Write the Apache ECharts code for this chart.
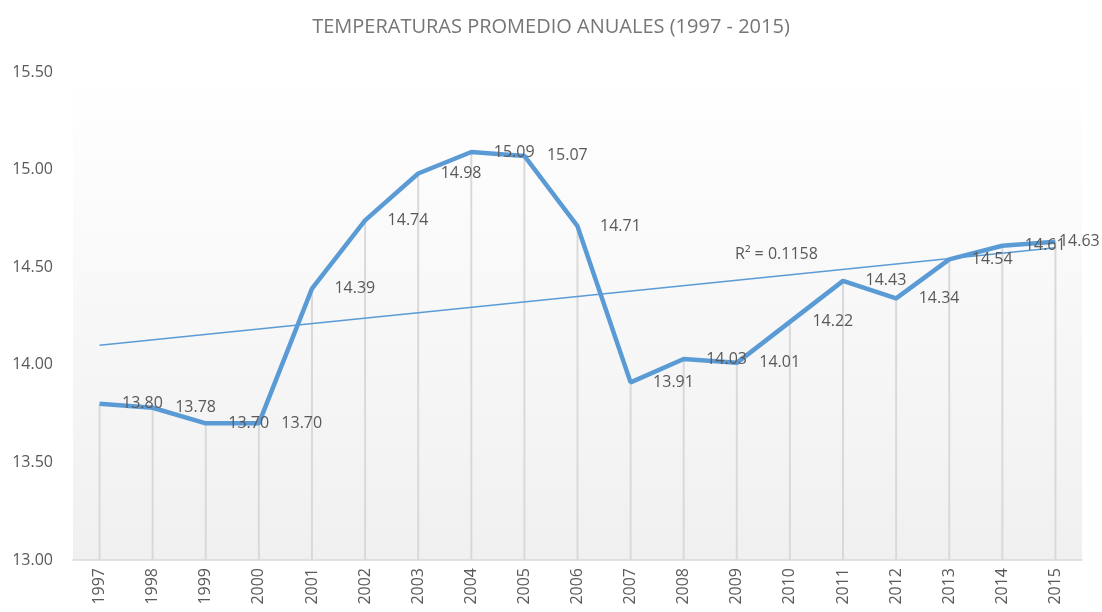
<!DOCTYPE html>
<html>
<head>
<meta charset="utf-8">
<script src="https://cdn.jsdelivr.net/npm/echarts@6/dist/echarts.min.js"></script>
<style>
  html, body { margin: 0; padding: 0; background: #fff; }
  #main { width: 1102px; height: 612px; }
</style>
</head>
<body>
<div id="main"></div>
<script>
// años y temperaturas
const years = ['1997', '1998', '1999', '2000', '2001', '2002', '2003', '2004', '2005', '2006',
  '2007', '2008', '2009', '2010', '2011', '2012', '2013', '2014', '2015'];
const temps = [13.80, 13.78, 13.70, 13.70, 14.39, 14.74, 14.98, 15.09, 15.07, 14.71,
  13.91, 14.03, 14.01, 14.22, 14.43, 14.34, 14.54, 14.61, 14.63];
// línea de tendencia (extremos)
const trendEnds = [14.10, 14.60];
const r2Text = 'R² = 0.1158';

const font = '"Open Sans", "Liberation Sans", sans-serif';
const blue = '#5b9bd5';
const textGray = '#595959';

const trend = years.map((y, i) => {
  if (i === 0) return trendEnds[0];
  if (i === years.length - 1) return trendEnds[1];
  return null;
});

// la última etiqueta va pegada al punto para que quepa
const lineData = temps.map((v, i) => i === temps.length - 1
  ? { value: v, label: { distance: 3, offset: [0, 0] } }
  : v);

const myChart = echarts.init(document.getElementById('main'));
const option = {
  animation: false,
  title: {
    text: 'TEMPERATURAS PROMEDIO ANUALES (1997 - 2015)',
    left: 'center',
    top: 12,
    textStyle: { fontFamily: font, fontSize: 20, fontWeight: 'normal', color: '#767676' }
  },
  grid: {
    left: 73,
    right: 20,
    top: 72,
    bottom: 52,
    show: true,
    borderWidth: 0,
    backgroundColor: {
      type: 'linear', x: 0, y: 0, x2: 0, y2: 1,
      colorStops: [{ offset: 0, color: '#ffffff' }, { offset: 1, color: '#f0f0f0' }]
    }
  },
  xAxis: {
    type: 'category',
    data: years,
    boundaryGap: true,
    axisLine: { lineStyle: { color: '#d9d9d9', width: 1.5 } },
    axisTick: { show: false },
    axisLabel: { rotate: 90, margin: 8, fontFamily: font, fontSize: 16, color: textGray }
  },
  yAxis: {
    type: 'value',
    min: 13,
    max: 15.5,
    interval: 0.5,
    axisLine: { show: false },
    axisTick: { show: false },
    splitLine: { show: false },
    axisLabel: {
      margin: 20, fontFamily: font, fontSize: 16, color: textGray,
      formatter: v => v.toFixed(2)
    }
  },
  series: [
    {
      // líneas verticales hasta el eje
      type: 'bar',
      data: temps,
      barWidth: 2,
      itemStyle: { color: '#d9d9d9' },
      silent: true,
      z: 1
    },
    {
      type: 'line',
      data: trend,
      connectNulls: true,
      showSymbol: false,
      lineStyle: { color: blue, width: 1.5 },
      z: 2
    },
    {
      type: 'line',
      data: lineData,
      showSymbol: true,
      symbol: 'circle',
      symbolSize: 1,
      itemStyle: { color: 'rgba(0,0,0,0)' },
      lineStyle: { color: blue, width: 4.5 },
      label: {
        show: true,
        position: 'right',
        distance: 22,
        offset: [0, 3],
        fontFamily: font,
        fontSize: 16,
        color: textGray,
        formatter: p => p.value.toFixed(2)
      },
      labelLayout: { hideOverlap: false },
      z: 3
    }
  ],
  graphic: [{
    type: 'text',
    left: 735,
    top: 246,
    style: { text: r2Text, font: '16px ' + font, fill: textGray }
  }]
};
myChart.setOption(option);
</script>
</body>
</html>
